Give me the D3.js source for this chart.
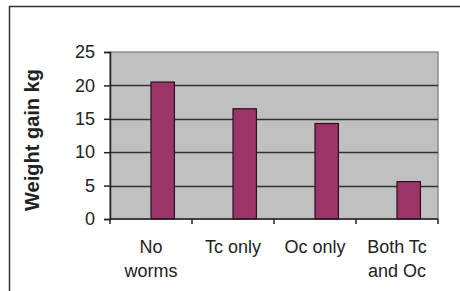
<!DOCTYPE html>
<html lang="en">
  <head>
    <meta charset="utf-8">
    <script src="https://d3js.org/d3.v7.min.js"></script>
    <title>Weight gain</title>
    <style>
      body { margin: 0; background: #fff; }
      text { font-family: "Liberation Sans", Arial, sans-serif; fill: #222; }
    </style>
  </head>
  <body>
    <div id="chart"></div>
    <script>
      // data
      var groups = [["No", "worms"], ["Tc only"], ["Oc only"], ["Both Tc", "and Oc"]];
      var gains = [20.5, 16.5, 14.3, 5.6];
      var yTicks = [0, 5, 10, 15, 20, 25];

      var W = 460, H = 291;
      // plot area bounds (note: "top" is taken by window.top)
      var pLeft = 110, pRight = 438, pTop = 52, pBottom = 219;

      var svg = d3.select("#chart").append("svg")
          .attr("width", W).attr("height", H);

      // outer frame (only top + left edge visible)
      svg.append("path")
          .attr("d", "M9.5," + H + "V6.5H" + W)
          .attr("fill", "none")
          .attr("stroke", "#333")
          .attr("stroke-width", 1.5);

      var x = d3.scaleBand()
          .domain(d3.range(groups.length))
          .range([pLeft, pRight]);
      // excel style cluster: empty first slot, bar sits right of centre
      var x1 = d3.scaleBand()
          .domain(["empty", "gain"])
          .range([0, x.bandwidth()])
          .paddingOuter(0.75);
      var y = d3.scaleLinear().domain([0, 25]).range([pBottom, pTop]);

      // plot area
      svg.append("rect")
          .attr("x", pLeft).attr("y", pTop)
          .attr("width", pRight - pLeft).attr("height", pBottom - pTop)
          .attr("fill", "#c0c0c0")
          .attr("stroke", "#8c8c8c")
          .attr("stroke-width", 1.5);

      // gridlines
      svg.append("g").selectAll("line")
          .data(yTicks.slice(1, -1))
          .join("line")
          .attr("x1", pLeft).attr("x2", pRight)
          .attr("y1", d => Math.round(y(d)) + 0.5)
          .attr("y2", d => Math.round(y(d)) + 0.5)
          .attr("stroke", "#333")
          .attr("stroke-width", 1.5);

      // bars
      svg.append("g").selectAll("rect")
          .data(gains)
          .join("rect")
          .attr("x", (d, i) => x(i) + x1("gain"))
          .attr("y", d => y(d))
          .attr("width", x1.bandwidth())
          .attr("height", d => pBottom - y(d))
          .attr("fill", "#9b3467")
          .attr("stroke", "#2a1020")
          .attr("stroke-width", 1.2);

      // y axis
      var yAxis = svg.append("g")
          .attr("transform", "translate(" + pLeft + ",0)")
          .call(d3.axisLeft(y).tickValues(yTicks).tickSize(6).tickPadding(9));
      yAxis.select(".domain").attr("stroke", "#222").attr("stroke-width", 1.5);
      yAxis.selectAll(".tick line").attr("stroke", "#222").attr("stroke-width", 1.5);
      yAxis.selectAll("text")
          .style("font-size", "18px")
          .attr("fill", "#222");

      // x axis
      var xAxis = svg.append("g")
          .attr("transform", "translate(0," + pBottom + ")");
      xAxis.append("line")
          .attr("x1", pLeft).attr("x2", pRight)
          .attr("stroke", "#222").attr("stroke-width", 1.5);
      xAxis.selectAll(".tk")
          .data(d3.range(groups.length + 1))
          .join("line")
          .attr("class", "tk")
          .attr("x1", d => pLeft + d * x.step())
          .attr("x2", d => pLeft + d * x.step())
          .attr("y1", 0).attr("y2", 5)
          .attr("stroke", "#222").attr("stroke-width", 1.5);

      var lbl = xAxis.selectAll(".lbl")
          .data(groups)
          .join("text")
          .attr("class", "lbl")
          .attr("text-anchor", "middle")
          .style("font-size", "18px")
          .attr("transform", (d, i) => "translate(" + (x(i) + x.bandwidth() / 2) + ",34)");
      lbl.selectAll("tspan")
          .data(d => d)
          .join("tspan")
          .attr("x", 0)
          .attr("y", (d, i) => i * 24)
          .text(d => d);

      // axis title
      svg.append("text")
          .attr("transform", "translate(39,140) rotate(-90)")
          .attr("text-anchor", "middle")
          .style("font-size", "20px")
          .style("font-weight", "bold")
          .text("Weight gain kg");
    </script>
  </body>
</html>
